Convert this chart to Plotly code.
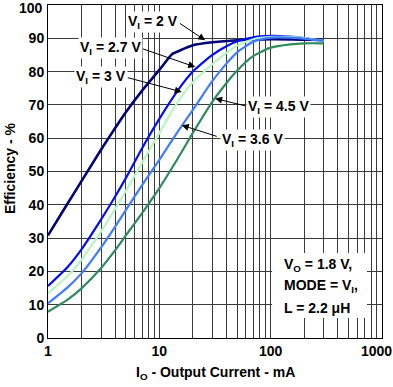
import math
import plotly.graph_objects as go

# ---- data ----
x_2v = [1, 1.5, 2, 3, 4, 5, 7, 10, 13, 15, 20, 30, 50, 100, 200, 300]
y_2v = [30.8, 40.4, 47.1, 56.6, 63.0, 67.8, 74.3, 80.5, 85.2, 86.2, 87.9, 88.8, 89.4, 89.7, 89.6, 89.5]

x_common = [1, 1.5, 2, 3, 4, 5, 7, 10, 15, 20, 30, 40, 50, 70, 100, 150, 200, 300]
y_27v = [15.6, 21.3, 26.6, 35.6, 42.4, 48, 57, 65.8, 74.8, 80, 85, 87.6, 89.1, 90.3, 90.7, 90.5, 90.1, 89.3]
y_3v = [13.4, 18.6, 23.5, 32, 38.7, 44.2, 52.6, 61.6, 71.4, 76.8, 82.2, 85.6, 87.8, 89.7, 90.4, 90.4, 90.1, 89.2]
y_36v = [10.4, 15.2, 19.4, 27.2, 33.4, 38.4, 45.9, 53.5, 62.5, 68.5, 77.2, 82.4, 85.8, 89, 90.2, 90.2, 89.9, 89.2]
y_45v = [7.9, 11.5, 14.9, 21, 26.3, 30.8, 37.5, 45, 54.5, 61.6, 71, 76.5, 80.3, 84.7, 87.2, 88.2, 88.5, 88.5]

x_tick_vals = [1, 10, 100, 1000]
x_tick_text = ["1", "10", "100", ""]
x_minor_vals = [m * d for d in (1, 10, 100) for m in range(2, 10)]
y_tick_vals = list(range(0, 101, 10))
y_tick_text = [str(v) for v in y_tick_vals[:-1]] + [""]

FONT = "Liberation Sans, Arial, Helvetica, sans-serif"
GRID = "#3a3a3a"
FS = 14
bold = dict(family=FONT, size=FS, color="black", weight="bold")

fig = go.Figure()
series = [
    (x_2v, y_2v, "#00007a", 2.6),
    (x_common, y_27v, "#0010ee", 2.2),
    (x_common, y_3v, "#b8f5c4", 2.2),
    (x_common, y_36v, "#3f7dff", 2.2),
    (x_common, y_45v, "#2e8b5e", 2.2),
]
for xs, ys, col, w in series:
    fig.add_trace(go.Scatter(x=xs, y=ys, mode="lines",
                             line=dict(color=col, width=w, shape="spline", smoothing=0.6),
                             hoverinfo="skip", showlegend=False))

lg = math.log10
# labels: (text, text_x, text_y, tail_x, tail_y, tip_x, tip_y)
labels = [
    ("V<sub>I</sub> = 2 V", 8.7, 94.8, 14.8, 94.8, 25.8, 89.4),
    ("V<sub>I</sub> = 2.7 V", 3.61, 87.0, 6.86, 87.0, 21.0, 81.4),
    ("V<sub>I</sub> = 3 V", 3.0, 78.3, 5.03, 78.3, 15.9, 73.9),
    ("V<sub>I</sub> = 4.5 V", 117, 69.3, 61.2, 69.6, 31.7, 71.9),
    ("V<sub>I</sub> = 3.6 V", 68.4, 59.4, 33.8, 60.4, 15.9, 63.9),
]
for txt, tx, ty, ax_, ay_, hx, hy in labels:
    fig.add_annotation(x=lg(hx), y=hy, ax=lg(ax_), ay=ay_, axref="x", ayref="y",
                       xref="x", yref="y", text="", showarrow=True,
                       arrowhead=2, arrowsize=1.4, arrowwidth=1, arrowcolor="#000")
    fig.add_annotation(x=lg(tx), y=ty, xref="x", yref="y", text=txt, showarrow=False,
                       bgcolor="white", borderpad=1, font=bold)

# condition box
fig.add_shape(type="rect", xref="paper", yref="paper", x0=0.671, x1=0.955, y0=0.060, y1=0.255,
              fillcolor="white", line=dict(width=0), layer="above")
box_lines = ["V<sub>O</sub> = 1.8 V,", "MODE = V<sub>I</sub>,", "L = 2.2 \u03bcH"]
box_y = [0.219, 0.156, 0.091]
for t, yy in zip(box_lines, box_y):
    fig.add_annotation(x=0.70, y=yy, xref="paper", yref="paper", text=t, showarrow=False,
                       xanchor="left", yanchor="middle", font=bold)

# edge tick labels kept inside the picture
fig.add_annotation(x=-0.009, y=1.0, xref="paper", yref="paper", text="100", showarrow=False,
                   xanchor="right", yanchor="middle", yshift=-3, font=bold)
fig.add_annotation(x=0.985, y=0, xref="paper", yref="paper", text="1000", showarrow=False,
                   xanchor="center", yanchor="middle", yshift=-13, font=bold)

# axis titles
fig.add_annotation(x=0.5, y=-0.105, xref="paper", yref="paper",
                   text="I<sub>O</sub> - Output Current - mA", showarrow=False,
                   xanchor="center", yanchor="middle", font=bold)
fig.add_annotation(x=-0.114, y=0.51, xref="paper", yref="paper",
                   text="Efficiency - %", showarrow=False, textangle=-90,
                   xanchor="center", yanchor="middle", font=bold)

fig.update_xaxes(type="log", range=[0, 3], tickvals=x_tick_vals, ticktext=x_tick_text,
                 showgrid=True, gridcolor=GRID, gridwidth=1, ticks="",
                 minor=dict(tickmode="array", tickvals=x_minor_vals, showgrid=True,
                            gridcolor=GRID, gridwidth=1, ticks=""),
                 showline=True, linecolor="black", linewidth=1, mirror=True, zeroline=False,
                 tickfont=bold, automargin=False, ticklabeloverflow="allow")
fig.update_yaxes(range=[0, 100], tickvals=y_tick_vals, ticktext=y_tick_text,
                 showgrid=True, gridcolor=GRID, gridwidth=1, ticks="",
                 showline=True, linecolor="black", linewidth=1, mirror=True, zeroline=False,
                 tickfont=bold, automargin=False, ticklabeloverflow="allow")

fig.update_layout(width=393, height=387, margin=dict(l=48, r=11, t=5, b=49),
                  paper_bgcolor="white", plot_bgcolor="white", showlegend=False)

fig.write_html("out.html", config={"displayModeBar": False},
               post_script="document.body.style.margin='0';document.body.style.padding='0';")
